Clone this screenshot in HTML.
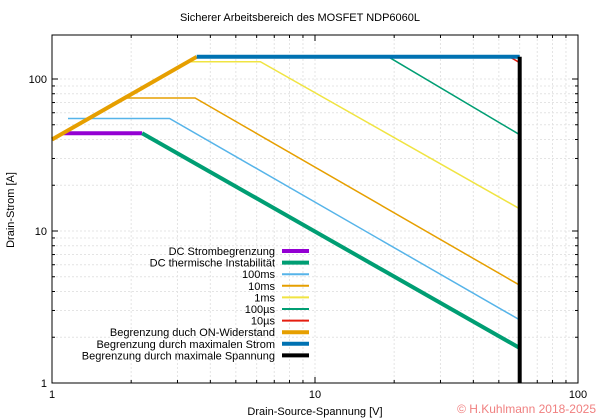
<!DOCTYPE html>
<html><head><meta charset="utf-8"><style>
html,body{margin:0;padding:0;background:#fff;}
svg{display:block;font-family:"Liberation Sans","DejaVu Sans",sans-serif;}
</style></head><body>
<svg id="c" width="600" height="420"></svg>
<script>
const xTicks=[1,10,100];
const yTicks=[1,10,100];
const seriesNames=["DC Strombegrenzung","DC thermische Instabilität","100ms","10ms","1ms","100µs","10µs","Begrenzung duch ON-Widerstand","Begrenzung durch maximalen Strom","Begrenzung durch maximale Spannung"];
const seriesColors=["#9400d3","#009e73","#56b4e9","#e69f00","#f0e442","#009e73","#e51e10","#e69f00","#0072b2","#000000"];
const seriesWidths=[4,4,1.5,1.5,1.5,1.5,1.5,4,4,4];
const sDCcurrentV=[1.1,2.2], sDCcurrentI=[44,44];
const sDCthermV=[2.2,60], sDCthermI=[44,1.7];
const s100msV=[1.15,2.8,60], s100msI=[55,55,2.6];
const s10msV=[1.85,3.5,60], s10msI=[75,75,4.4];
const s1msV=[3.3,6.2,60], s1msI=[130,130,14];
const s100usV=[19,60], s100usI=[140,43];
const s10usV=[55,60], s10usI=[140,128];
const sRonV=[1,3.55], sRonI=[40,140];
const sImaxV=[3.55,60], sImaxI=[140,140];
const sVmaxV=[60,60], sVmaxI=[1,140];
const seriesV=[sDCcurrentV,sDCthermV,s100msV,s10msV,s1msV,s100usV,s10usV,sRonV,sImaxV,sVmaxV];
const seriesI=[sDCcurrentI,sDCthermI,s100msI,s10msI,s1msI,s100usI,s10usI,sRonI,sImaxI,sVmaxI];
const L=52,R=578,T=35,B=383;
const X=v=>L+(R-L)*Math.log10(v)/2;
const Y=i=>B-152*Math.log10(i);
const svg=document.getElementById('c');
const NS="http://www.w3.org/2000/svg";
function mk(t,a,p){const e=document.createElementNS(NS,t);for(const k in a)e.setAttribute(k,a[k]);(p||svg).appendChild(e);return e;}
const grid=mk('g',{});


for(let d=1;d<=100;d*=10)for(let m=1;m<10;m++){const x=X(d*m);if(x>R)break;
 mk('line',{x1:x,x2:x,y1:T,y2:B,stroke:'#e4e4e4','stroke-width':1,'stroke-dasharray':'2,2'},grid);}
for(let d=1;d<=100;d*=10)for(let m=1;m<10;m++){const y=Y(d*m);if(y<T)break;
 mk('line',{x1:L,x2:R,y1:y,y2:y,stroke:'#e4e4e4','stroke-width':1,'stroke-dasharray':'2,2'},grid);}
for(let d=1;d<=100;d*=10)for(let m=1;m<10;m++){const x=X(d*m);if(x>R)break;const len=m===1?6:3;
 mk('line',{x1:x,x2:x,y1:B,y2:B-len,stroke:'#000'});mk('line',{x1:x,x2:x,y1:T,y2:T+len,stroke:'#000'});}
for(let d=1;d<=100;d*=10)for(let m=1;m<10;m++){const y=Y(d*m);if(y<T)break;const len=m===1?6:3;
 mk('line',{x1:L,x2:L+len,y1:y,y2:y,stroke:'#000'});mk('line',{x1:R,x2:R-len,y1:y,y2:y,stroke:'#000'});}
for(let s=0;s<seriesV.length;s++){
 const pts=seriesV[s].map((v,k)=>X(v).toFixed(1)+','+Y(seriesI[s][k]).toFixed(1)).join(' ');
 const p=mk('polyline',{points:pts,fill:'none',stroke:seriesColors[s],'stroke-width':seriesWidths[s],'stroke-linejoin':'miter'});
 
 
}
mk('rect',{x:L,y:T,width:R-L,height:B-T,fill:'none',stroke:'#000','stroke-width':1});
xTicks.forEach(v=>{const t=mk('text',{x:X(v),y:B+15,'font-size':11,'text-anchor':'middle'});t.textContent=v;
 });
yTicks.forEach(v=>{const t=mk('text',{x:L-5,y:Y(v)+4,'font-size':11,'text-anchor':'end'});t.textContent=v;
 });
const lg=mk('g',{});


seriesNames.forEach((n,k)=>{const y=251+k*11.6;
 const t=mk('text',{x:275,y:y+4,'font-size':11,'text-anchor':'end'},lg);t.textContent=n;
 
 mk('line',{x1:282,x2:309,y1:y,y2:y,stroke:seriesColors[k],'stroke-width':seriesWidths[k]===4?4:2},lg);});
</script>
<script>
(function(){const svg=document.getElementById('c');const NS="http://www.w3.org/2000/svg";
function t(x,y,s,txt,a,name,extra){const e=document.createElementNS(NS,'text');e.setAttribute('x',x);e.setAttribute('y',y);e.setAttribute('font-size',s);e.setAttribute('text-anchor',a);if(extra)for(const k in extra)e.setAttribute(k,extra[k]);e.textContent=txt;


svg.appendChild(e);}
t(300,21,11,'Sicherer Arbeitsbereich des MOSFET NDP6060L','middle','chart-title');
t(315,415,11,'Drain-Source-Spannung [V]','middle','x-axis-title');
t(14,210,11,'Drain-Strom [A]','middle','y-axis-title',{transform:'rotate(-90 14 210)'});
t(596,413,12,'© H.Kuhlmann 2018-2025','end','copyright',{fill:'#f08080'});
})();
</script>
</body></html>
